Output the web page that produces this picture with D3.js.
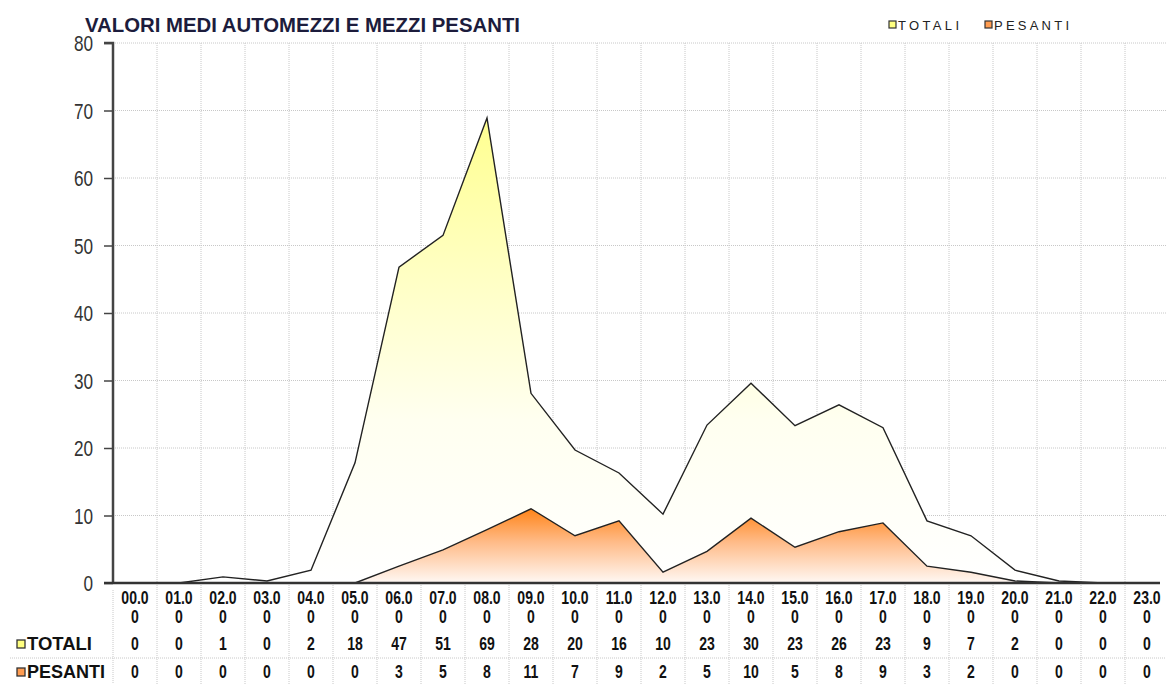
<!DOCTYPE html>
<html>
<head>
<meta charset="utf-8">
<script src="https://cdn.jsdelivr.net/npm/d3@7/dist/d3.min.js"></script>
<style>
  body { margin: 0; background: #fff; }
  svg { display: block; }
  text { font-family: "Liberation Sans", Arial, sans-serif; }
</style>
</head>
<body>
<svg id="chart"></svg>
<script>
const WIDTH = 1166;
const HEIGHT = 684;
const NARROW = 0.78;   // horizontal squeeze, the original uses a narrow font

// data
const hours = ["00.0", "01.0", "02.0", "03.0", "04.0", "05.0", "06.0", "07.0", "08.0", "09.0", "10.0", "11.0",
               "12.0", "13.0", "14.0", "15.0", "16.0", "17.0", "18.0", "19.0", "20.0", "21.0", "22.0", "23.0"];
const totali = [0, 0, 0.9, 0.3, 1.9, 17.8, 46.8, 51.5, 68.9, 28.1, 19.7, 16.3,
                10.2, 23.4, 29.6, 23.3, 26.4, 23.0, 9.2, 7.0, 1.9, 0.3, 0, 0];
const pesanti = [0, 0, 0, 0, 0, 0, 2.5, 4.9, 7.9, 11.0, 7.0, 9.2,
                 1.6, 4.7, 9.6, 5.3, 7.6, 8.9, 2.5, 1.6, 0.3, 0, 0, 0];
const totaliLabels = [0, 0, 1, 0, 2, 18, 47, 51, 69, 28, 20, 16, 10, 23, 30, 23, 26, 23, 9, 7, 2, 0, 0, 0];
const pesantiLabels = [0, 0, 0, 0, 0, 0, 3, 5, 8, 11, 7, 9, 2, 5, 10, 5, 8, 9, 3, 2, 0, 0, 0, 0];
const yTicks = [0, 10, 20, 30, 40, 50, 60, 70, 80];

const svg = d3.select("#chart").attr("width", WIDTH).attr("height", HEIGHT);

const x = d3.scaleBand().domain(hours).range([113, 1169]);
const y = d3.scaleLinear().domain([0, 80]).range([583, 43]);
const cx = h => x(h) + x.bandwidth() / 2;
const squeeze = (px, py) => `translate(${px},${py}) scale(${NARROW},1)`;

// gradients
const defs = svg.append("defs");
const addGrad = (id, stops) => {
  let g = defs.append("linearGradient").attr("id", id)
              .attr("x1", 0).attr("y1", 0).attr("x2", 0).attr("y2", 1);
  stops.forEach(s => g.append("stop").attr("offset", s[0]).attr("stop-color", s[1]));
};
addGrad("gradTot", [[0, "#ffff90"], [0.3, "#ffffbe"], [0.65, "#fffff0"], [1, "#ffffff"]]);
addGrad("gradPes", [[0, "#ff8418"], [0.45, "#ffbb88"], [1, "#fff8f4"]]);

// grid
const grid = svg.append("g").attr("stroke", "#c8c8c8").attr("stroke-dasharray", "1,1");
grid.selectAll("line.h").data(yTicks.filter(d => d > 0)).join("line")
    .attr("x1", 113).attr("x2", WIDTH).attr("y1", d => y(d)).attr("y2", d => y(d));
grid.selectAll("line.v").data(hours.slice(1)).join("line")
    .attr("x1", d => x(d)).attr("x2", d => x(d)).attr("y1", y(80)).attr("y2", HEIGHT);
grid.append("line").attr("x1", 113).attr("x2", 113).attr("y1", 590).attr("y2", HEIGHT);
grid.append("line").attr("x1", 10).attr("x2", WIDTH).attr("y1", 658).attr("y2", 658);

// areas
const area = vals => d3.area()
  .x((d, i) => cx(hours[i]))
  .y0(y(0))
  .y1(d => y(d))(vals);
const line = vals => d3.line()
  .x((d, i) => cx(hours[i]))
  .y(d => y(d))(vals);

svg.append("path").attr("d", area(totali)).attr("fill", "url(#gradTot)");
svg.append("path").attr("d", line(totali)).attr("fill", "none").attr("stroke", "#222").attr("stroke-width", 1.4);
svg.append("path").attr("d", area(pesanti)).attr("fill", "url(#gradPes)");
svg.append("path").attr("d", line(pesanti)).attr("fill", "none").attr("stroke", "#222").attr("stroke-width", 1.4);

// axes
const yAxis = svg.append("g").attr("transform", "translate(113,0)")
  .call(d3.axisLeft(y).tickValues(yTicks).tickSize(9).tickPadding(11));
yAxis.select(".domain").attr("stroke", "#444").attr("stroke-width", 2.5).attr("d", `M-9,${y(80)}H0V${y(0)}`);
yAxis.selectAll(".tick line").attr("stroke", "#444").attr("stroke-width", 1.5);
yAxis.selectAll(".tick text")
  .attr("x", null).attr("dy", "0.36em")
  .attr("transform", squeeze(-20, 0))
  .attr("font-family", "Liberation Sans, Arial, sans-serif")
  .attr("font-size", 22).attr("fill", "#333");

svg.append("line").attr("x1", 104).attr("x2", 1160).attr("y1", y(0)).attr("y2", y(0))
   .attr("stroke", "#333").attr("stroke-width", 2.5);

// title
svg.append("text").attr("x", 85).attr("y", 32)
   .attr("font-size", 20).attr("font-weight", "bold").attr("fill", "#1c1c3c")
   .attr("textLength", 435).attr("lengthAdjust", "spacingAndGlyphs")
   .text("VALORI MEDI AUTOMEZZI E MEZZI PESANTI");

// legend
const legend = [["TOTALI", "#ffff80", 889, 61], ["PESANTI", "#ff9c50", 985, 75]];
legend.forEach(l => {
  svg.append("rect").attr("x", l[2]).attr("y", 21).attr("width", 7).attr("height", 7)
     .attr("fill", l[1]).attr("stroke", "#333").attr("stroke-width", 1.2);
  svg.append("text").attr("x", l[2] + 9).attr("y", 30)
     .attr("font-size", 13).attr("fill", "#222")
     .attr("textLength", l[3]).attr("lengthAdjust", "spacing").text(l[0]);
});

// table
const table = svg.append("g").attr("font-weight", "bold")
  .attr("font-size", 18).attr("fill", "#111").attr("text-anchor", "middle");
table.selectAll("text.hour").data(hours).join("text")
  .attr("transform", d => squeeze(cx(d), 604)).text(d => d);
table.selectAll("text.hour2").data(hours).join("text")
  .attr("transform", d => squeeze(cx(d), 623)).text("0");
table.selectAll("text.tot").data(totaliLabels).join("text")
  .attr("transform", (d, i) => squeeze(cx(hours[i]), 650)).text(d => d);
table.selectAll("text.pes").data(pesantiLabels).join("text")
  .attr("transform", (d, i) => squeeze(cx(hours[i]), 678)).text(d => d);

const rows = [["TOTALI", "#ffff80", 650, 65], ["PESANTI", "#ff9c50", 678, 78]];
rows.forEach(r => {
  svg.append("rect").attr("x", 17).attr("y", r[2] - 10).attr("width", 8).attr("height", 8)
     .attr("fill", r[1]).attr("stroke", "#333").attr("stroke-width", 1.3);
  svg.append("text").attr("x", 27).attr("y", r[2])
     .attr("font-size", 18).attr("font-weight", "bold").attr("fill", "#111")
     .attr("textLength", r[3]).attr("lengthAdjust", "spacingAndGlyphs").text(r[0]);
});
</script>
</body>
</html>
